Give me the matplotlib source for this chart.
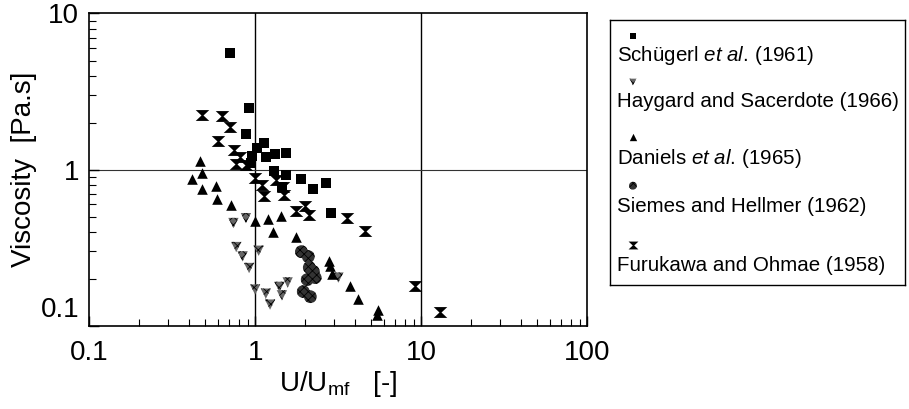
import numpy as np
import matplotlib
matplotlib.use('Agg')
import matplotlib.pyplot as plt
from matplotlib.path import Path
from matplotlib.transforms import ScaledTranslation
from matplotlib.ticker import LogLocator, NullFormatter, FixedLocator, FixedFormatter

plt.rcParams['font.family'] = ['Liberation Sans', 'DejaVu Sans']
plt.rcParams['mathtext.fontset'] = 'custom'
plt.rcParams['mathtext.rm'] = 'Liberation Sans'
plt.rcParams['mathtext.it'] = 'Liberation Sans:italic'
plt.rcParams['hatch.linewidth'] = 0.6

# data (U/Umf, viscosity Pa.s)
schugerl_x = [0.71, 0.92, 0.88, 1.13, 1.02, 0.96, 1.16, 1.32, 1.54, 0.95, 1.30, 1.53, 1.89, 2.24, 2.67, 2.86, 1.46]
schugerl_y = [5.6, 2.49, 1.69, 1.49, 1.38, 1.22, 1.21, 1.27, 1.28, 1.11, 0.975, 0.92, 0.87, 0.75, 0.82, 0.53, 0.78]

haygard_x = [0.74, 0.88, 0.77, 0.84, 0.92, 1.05, 1.0, 1.16, 1.23, 1.40, 1.45, 1.57, 3.17]
haygard_y = [0.456, 0.49, 0.32, 0.279, 0.235, 0.303, 0.171, 0.161, 0.137, 0.178, 0.157, 0.19, 0.204]

daniels_x = [0.464, 0.419, 0.481, 0.481, 0.579, 0.592, 0.713, 1.0, 1.20, 1.44, 1.28, 1.77,
             2.77, 2.82, 2.90, 3.71, 4.14, 5.49, 5.45]
daniels_y = [1.13, 0.876, 0.957, 0.756, 0.782, 0.646, 0.598, 0.472, 0.486, 0.508, 0.399, 0.371,
             0.259, 0.241, 0.216, 0.181, 0.149, 0.127, 0.117]

siemes_x = [1.90, 2.09, 2.12, 2.24, 2.06, 2.30, 1.95, 2.15]
siemes_y = [0.299, 0.278, 0.237, 0.223, 0.198, 0.204, 0.166, 0.154]

furukawa_x = [0.477, 0.630, 0.702, 0.601, 0.747, 0.809, 0.771, 0.886, 1.0, 1.107, 1.333, 1.462,
              1.133, 1.496, 1.755, 1.99, 2.10, 3.57, 4.61, 9.24, 13.0]
furukawa_y = [2.25, 2.21, 1.87, 1.52, 1.34, 1.21, 1.09, 1.08, 0.885, 0.802, 0.863, 0.775,
              0.675, 0.692, 0.542, 0.582, 0.516, 0.491, 0.404, 0.18, 0.123]

labels = ['Schügerl $et\\ al.\\,$(1961)', 'Haygard and Sacerdote (1966)', 'Daniels $et\\ al.\\,$(1965)',
          'Siemes and Hellmer (1962)', 'Furukawa and Ohmae (1958)']

# hourglass marker
hourglass = Path([(-1, 0.8), (1, 0.8), (0.15, 0), (1, -0.8), (-1, -0.8), (-0.15, 0), (-1, 0.8)],
                 [Path.MOVETO] + [Path.LINETO] * 5 + [Path.CLOSEPOLY])

styles = [
    dict(marker='s', s=45, fc='black', hatch=None),
    dict(marker='v', s=55, fc='#666666', hatch='xxxx'),
    dict(marker='^', s=58, fc='black', hatch=None),
    dict(marker='o', s=85, fc='#333333', hatch='xxxx'),
    dict(marker=hourglass, s=95, fc='black', hatch=None),
]
series = [(schugerl_x, schugerl_y), (haygard_x, haygard_y), (daniels_x, daniels_y),
          (siemes_x, siemes_y), (furukawa_x, furukawa_y)]

fig = plt.figure(figsize=(9.09, 4.09), dpi=100)
ax = fig.add_axes([0.098, 0.203, 0.548, 0.764])

for (xs, ys), st in zip(series, styles):
    ax.scatter(xs, ys, marker=st['marker'], s=st['s'], facecolors=st['fc'], edgecolors='black',
               hatch=st['hatch'], linewidths=0, zorder=3)

ax.set_xscale('log')
ax.set_yscale('log')
ax.set_xlim(0.1, 100)
ax.set_ylim(0.1, 10)

ax.axvline(1, color='black', lw=1.0, zorder=1)
ax.axvline(10, color='black', lw=1.0, zorder=1)
ax.axhline(1, color='#333333', lw=0.8, zorder=1)

ax.xaxis.set_major_locator(FixedLocator([0.1, 1, 10, 100]))
ax.xaxis.set_major_formatter(FixedFormatter(['0.1', '1', '10', '100']))
ax.yaxis.set_major_locator(FixedLocator([0.1, 1, 10]))
ax.yaxis.set_major_formatter(FixedFormatter(['0.1', '1', '10']))
ax.xaxis.set_minor_locator(LogLocator(base=10, subs=np.arange(2, 10)))
ax.yaxis.set_minor_locator(LogLocator(base=10, subs=np.arange(2, 10)))
ax.xaxis.set_minor_formatter(NullFormatter())
ax.yaxis.set_minor_formatter(NullFormatter())

ax.tick_params(which='both', direction='in', top=False, right=False, labelsize=20)
ax.tick_params(which='major', length=7, width=1)
ax.tick_params(which='minor', length=5, width=0.8)
ax.tick_params(axis='x', pad=10)
ax.tick_params(axis='y', pad=7)
for sp in ax.spines.values():
    sp.set_linewidth(1.2)

# lowest y label sits a little above its tick
low = ax.yaxis.get_major_ticks()[0].label1
low.set_transform(low.get_transform() + ScaledTranslation(0, 14 / 72, fig.dpi_scale_trans))

ax.set_xlabel('U/U$_{\\mathrm{mf}}$   [-]', fontsize=20, labelpad=2)
ax.set_ylabel('Viscosity  [Pa.s]', fontsize=20, labelpad=3)

# legend box with markers above labels
lax = fig.add_axes([0.671, 0.303, 0.3245, 0.648])
lax.set_xlim(0, 1)
lax.set_ylim(0, 1)
lax.set_xticks([])
lax.set_yticks([])
for sp in lax.spines.values():
    sp.set_linewidth(1.0)
mark_y = [0.941, 0.766, 0.558, 0.375, 0.151]
text_y = [0.868, 0.692, 0.479, 0.295, 0.075]
leg_sizes = [24, 24, 28, 32, 50]
for lab, st, my, ty, ms in zip(labels, styles, mark_y, text_y, leg_sizes):
    lax.scatter([0.078], [my], marker=st['marker'], s=ms, facecolors=st['fc'], edgecolors='black',
                hatch=st['hatch'], linewidths=0)
    lax.text(0.024, ty, lab, fontsize=14.8, va='center', ha='left')

fig.savefig('out.png', dpi=100)
